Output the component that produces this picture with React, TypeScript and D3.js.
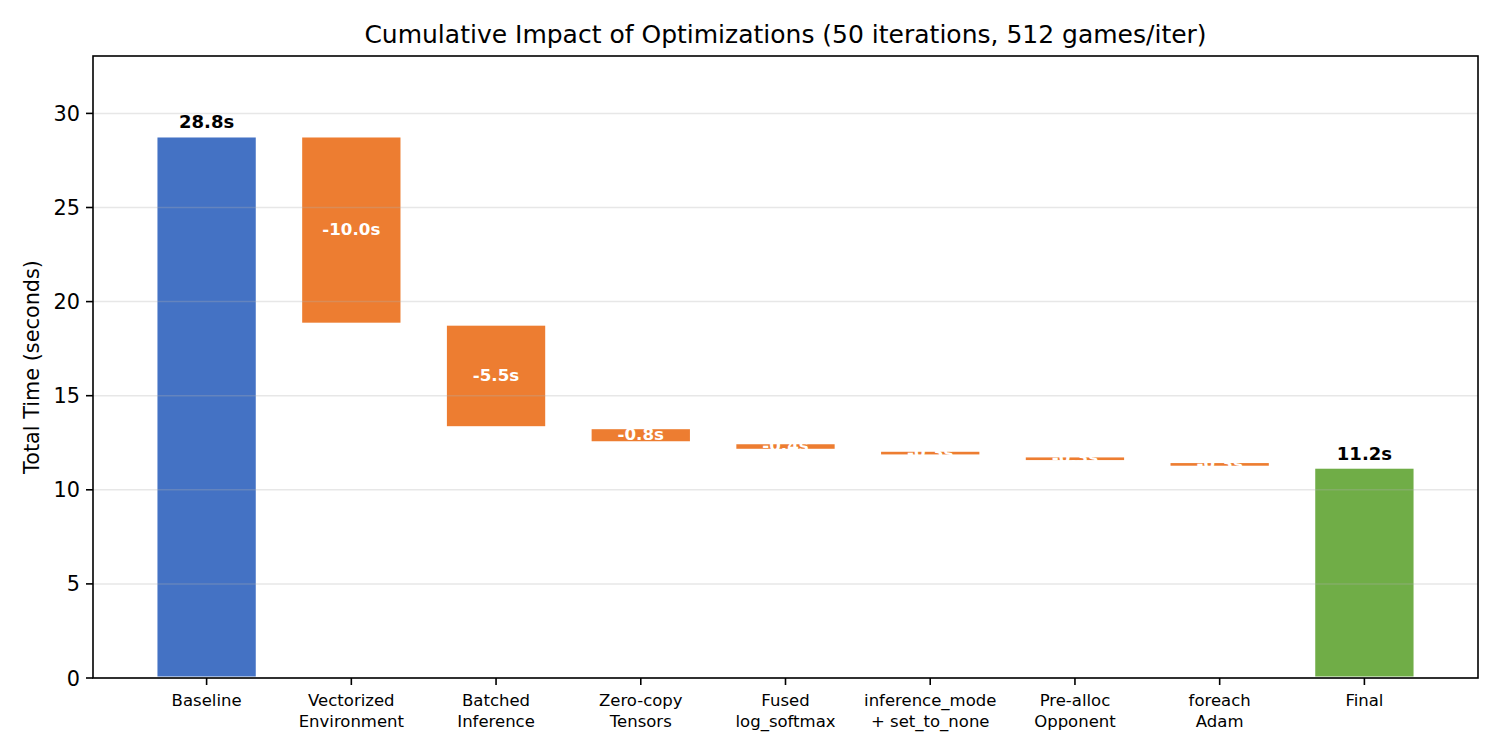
import * as d3 from 'd3';
import { useEffect } from 'react';

const categories = [
  'Baseline',
  'Vectorized\nEnvironment',
  'Batched\nInference',
  'Zero-copy\nTensors',
  'Fused\nlog_softmax',
  'inference_mode\n+ set_to_none',
  'Pre-alloc\nOpponent',
  'foreach\nAdam',
  'Final',
];
const baseline = 28.8;
const savings = [-10.0, -5.5, -0.8, -0.4, -0.3, -0.3, -0.3];
const yTicks = [0, 5, 10, 15, 20, 25, 30];
const yMax = 33.05;

const W = 1500;
const H = 750;
const M = { left: 93, right: 22, top: 56, bottom: 72 };
const FONT = '"DejaVu Sans", sans-serif';

type Bar = { i: number; lo: number; hi: number; kind: 'base' | 'step' | 'final'; label: string };

export default function App() {
  useEffect(() => {
    document.body.style.margin = '0';
  }, []);

  // waterfall: running total after each optimization
  const bars: Bar[] = [];
  bars.push({ i: 0, lo: 0, hi: baseline, kind: 'base', label: `${baseline.toFixed(1)}s` });
  let cur = baseline;
  savings.forEach((s, k) => {
    const next = cur + s;
    bars.push({ i: k + 1, lo: next, hi: cur, kind: 'step', label: `${s.toFixed(1)}s` });
    cur = next;
  });
  bars.push({ i: categories.length - 1, lo: 0, hi: cur, kind: 'final', label: `${cur.toFixed(1)}s` });

  const n = categories.length;
  const bw = 0.7;
  const pad = (n - 1 + bw) * 0.05;
  const x = d3
    .scaleLinear()
    .domain([-bw / 2 - pad, n - 1 + bw / 2 + pad])
    .range([M.left, W - M.right]);
  const y = d3
    .scaleLinear()
    .domain([0, yMax])
    .range([H - M.bottom, M.top]);

  const color = { base: '#4472C4', step: '#ED7D31', final: '#70AD47' };
  const unit = x(1) - x(0);

  return (
    <svg width={W} height={H} style={{ display: 'block', fontFamily: FONT }}>
      <rect width={W} height={H} fill="#fff" />
      <text x={(M.left + W - M.right) / 2} y={43} textAnchor="middle" fontSize={25}>
        Cumulative Impact of Optimizations (50 iterations, 512 games/iter)
      </text>
      {bars.map((b) => (
        <rect
          key={b.i}
          x={x(b.i - bw / 2)}
          width={unit * bw}
          y={y(b.hi)}
          height={y(b.lo) - y(b.hi)}
          fill={color[b.kind]}
          stroke="#fff"
          strokeWidth={3}
        />
      ))}
      {yTicks.map((t) => (
        <line
          key={t}
          x1={M.left}
          x2={W - M.right}
          y1={y(t)}
          y2={y(t)}
          stroke="#b0b0b0"
          strokeOpacity={0.3}
          strokeWidth={1.5}
        />
      ))}
      {bars.map((b) =>
        b.kind === 'step' ? (
          <text
            key={'l' + b.i}
            x={x(b.i)}
            y={y((b.lo + b.hi) / 2)}
            dy="0.28em"
            textAnchor="middle"
            fontSize={16.7}
            fontWeight="bold"
            fill="#fff"
          >
            {b.label}
          </text>
        ) : (
          <text
            key={'l' + b.i}
            x={x(b.i)}
            y={y(b.hi) - 7.5}
            textAnchor="middle"
            fontSize={18}
            fontWeight="bold"
            fill="#000"
          >
            {b.label}
          </text>
        )
      )}
      <rect
        x={M.left}
        y={M.top}
        width={W - M.right - M.left}
        height={H - M.bottom - M.top}
        fill="none"
        stroke="#000"
        strokeWidth={1.6}
      />
      {yTicks.map((t) => (
        <g key={'t' + t} transform={`translate(${M.left},${y(t)})`}>
          <line x1={-7} x2={0} stroke="#000" strokeWidth={1.6} />
          <text x={-13} dy="0.36em" textAnchor="end" fontSize={20.8}>
            {t}
          </text>
        </g>
      ))}
      {categories.map((c, i) => (
        <g key={c} transform={`translate(${x(i)},${H - M.bottom})`}>
          <line y1={0} y2={7} stroke="#000" strokeWidth={1.6} />
          {c.split('\n').map((ln, k) => (
            <text key={k} y={28 + k * 20.5} textAnchor="middle" fontSize={16.5}>
              {ln}
            </text>
          ))}
        </g>
      ))}
      <text
        transform={`translate(39,${(M.top + H - M.bottom) / 2}) rotate(-90)`}
        textAnchor="middle"
        fontSize={20.8}
      >
        Total Time (seconds)
      </text>
    </svg>
  );
}
